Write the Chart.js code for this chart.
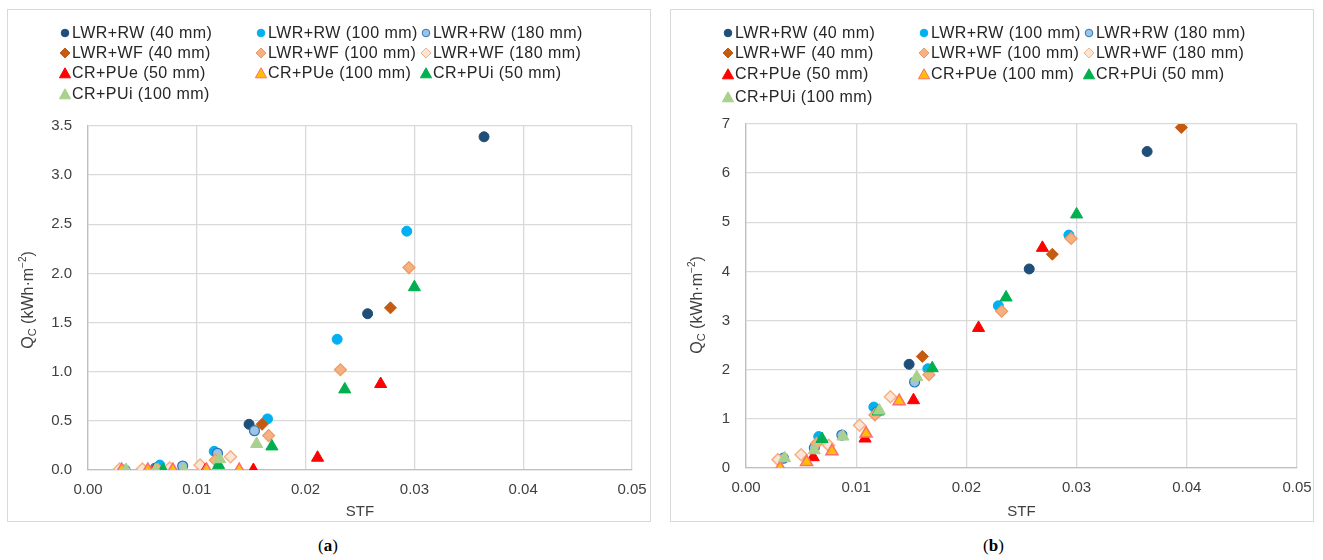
<!DOCTYPE html>
<html>
<head>
<meta charset="utf-8">
<script src="https://cdn.jsdelivr.net/npm/chart.js@4.4.1/dist/chart.umd.min.js"></script>
<style>
  body { margin: 0; background: #fff; width: 1323px; height: 560px; position: relative; overflow: hidden; font-family: "Liberation Sans", Arial, sans-serif; }
  .panel { position: absolute; top: 9px; width: 642px; height: 511px; border: 1px solid #d9d9d9; }
  .panel canvas { position: absolute; left: 0; top: 0; }
  .item { position: absolute; font-size: 16px; color: #262626; letter-spacing: 0.45px; white-space: nowrap; line-height: 20px; }
  .item svg { position: absolute; left: -13px; top: 4px; }
  .cap { position: absolute; top: 536px; font-family: "Liberation Serif", serif; font-size: 17px; color: #000; }
</style>
</head>
<body>
<div class="panel" id="panelA" style="left:7px"><canvas id="chartA" width="642" height="511"></canvas></div>
<div class="panel" id="panelB" style="left:670px"><canvas id="chartB" width="642" height="511"></canvas></div>
<div class="cap" style="left:318px">(<b>a</b>)</div>
<div class="cap" style="left:983px">(<b>b</b>)</div>
<script>
// series names
var names = ['LWR+RW (40 mm)', 'LWR+RW (100 mm)', 'LWR+RW (180 mm)',
             'LWR+WF (40 mm)', 'LWR+WF (100 mm)', 'LWR+WF (180 mm)',
             'CR+PUe (50 mm)', 'CR+PUe (100 mm)', 'CR+PUi (50 mm)',
             'CR+PUi (100 mm)'];

// STF values (x), same for both panels
var stfRW40   = [0.0364, 0.0257, 0.0148];
var stfRW100  = [0.0293, 0.0229, 0.0165, 0.0116, 0.0066];
var stfRW180  = [0.0153, 0.0119, 0.0087, 0.0062, 0.0034];
var stfWF40   = [0.0395, 0.0278, 0.0160];
var stfWF100  = [0.0295, 0.0232, 0.0166, 0.0117, 0.0064];
var stfWF180  = [0.0131, 0.0103, 0.0075, 0.0050, 0.0029];
var stfPUe50  = [0.0269, 0.0211, 0.0152, 0.0108, 0.0061];
var stfPUe100 = [0.0139, 0.0109, 0.0078, 0.0055, 0.0031];
var stfPUi50  = [0.0300, 0.0236, 0.0169, 0.0120, 0.0069];
var stfPUi100 = [0.0155, 0.0121, 0.0088, 0.0062, 0.0035];

// Qc panel (a)
var qaRW40   = [3.39, 1.59, 0.465];
var qaRW100  = [2.43, 1.33, 0.52, 0.19, 0.05];
var qaRW180  = [0.40, 0.17, 0.04, 0.02, 0.0];
var qaWF40   = [null, 1.65, 0.465];
var qaWF100  = [2.06, 1.02, 0.35, 0.10, 0.01];
var qaWF180  = [0.135, 0.05, 0.02, 0.01, 0.01];
var qaPUe50  = [0.875, 0.125, 0.0, 0.0, 0.0];
var qaPUe100 = [0.0, 0.0, 0.0, 0.0, 0.0];
var qaPUi50  = [1.86, 0.82, 0.24, 0.05, 0.0];
var qaPUi100 = [0.265, 0.11, 0.0, 0.0, 0.0];

// Qc panel (b)
var qbRW40   = [6.44, 4.05, 2.11];
var qbRW100  = [4.74, 3.30, 2.02, 1.24, 0.64];
var qbRW180  = [1.75, 1.14, 0.67, 0.41, 0.20];
var qbWF40   = [6.93, 4.35, 2.27];
var qbWF100  = [4.67, 3.19, 1.90, 1.08, 0.50];
var qbWF180  = [1.45, 0.87, 0.46, 0.27, 0.17];
var qbPUe50  = [4.48, 2.85, 1.38, 0.60, 0.22];
var qbPUe100 = [1.36, 0.70, 0.34, 0.12, 0.0];
var qbPUi50  = [5.16, 3.47, 2.03, 1.15, 0.59];
var qbPUi100 = [1.85, 1.17, 0.64, 0.36, 0.20];

var xTicks = [0, 0.01, 0.02, 0.03, 0.04, 0.05];

var stfs = [stfRW40, stfRW100, stfRW180, stfWF40, stfWF100, stfWF180, stfPUe50, stfPUe100, stfPUi50, stfPUi100];
var qa = [qaRW40, qaRW100, qaRW180, qaWF40, qaWF100, qaWF180, qaPUe50, qaPUe100, qaPUi50, qaPUi100];
var qb = [qbRW40, qbRW100, qbRW180, qbWF40, qbWF100, qbWF180, qbPUe50, qbPUe100, qbPUi50, qbPUi100];

// marker styles: shape, fill, border, border width, radius
var styles = [
  ['circle',   '#1f4e79', '#1f4e79', 1, 5],
  ['circle',   '#00b0f0', '#00b0f0', 1, 5],
  ['circle',   '#9dc3e6', '#2e75b6', 1.2, 5],
  ['rectRot',  '#c55a11', '#c55a11', 1, 6],
  ['rectRot',  '#f4b183', '#ee9a5e', 1.2, 6],
  ['rectRot',  '#fbe5d6', '#f4b183', 1.5, 6],
  ['triangle', '#ff0000', '#ff0000', 1, 7],
  ['triangle', '#ffc000', '#ff6d6d', 1.5, 7],
  ['triangle', '#00b050', '#00b050', 1, 7],
  ['triangle', '#a9d18e', '#a9d18e', 1, 7]
];

function makeDatasets(q) {
  return names.map(function(n, i) {
    var pts = [];
    stfs[i].forEach(function(x, j) {
      if (q[i][j] !== null) pts.push({ x: x, y: q[i][j] });
    });
    return {
      label: n,
      data: pts,
      pointStyle: styles[i][0],
      backgroundColor: styles[i][1],
      borderColor: styles[i][2],
      borderWidth: styles[i][3],
      pointRadius: styles[i][4],
      pointHoverRadius: styles[i][4],
      order: 20 - i
    };
  });
}

// y title with subscript and superscript
var yTitle = {
  id: 'yTitle',
  afterDraw: function(chart, args, opts) {
    var ctx = chart.ctx;
    var parts = [['Q', 16, 0], ['C', 11, 4], [' (kWh\u00b7m', 16, 0], ['\u22122', 10, -6], [')', 16, 0]];
    ctx.save();
    ctx.translate(opts.x, opts.y);
    ctx.rotate(-Math.PI / 2);
    ctx.fillStyle = '#404040';
    ctx.textBaseline = 'middle';
    var total = 0;
    parts.forEach(function(p) {
      ctx.font = p[1] + 'px "Liberation Sans", Arial';
      total += ctx.measureText(p[0]).width;
    });
    var cx = -total / 2;
    parts.forEach(function(p) {
      ctx.font = p[1] + 'px "Liberation Sans", Arial';
      ctx.fillText(p[0], cx, p[2]);
      cx += ctx.measureText(p[0]).width;
    });
    ctx.restore();
  }
};

function makeChart(id, q, yMax, yStep, yDec, areaLeft, padRight, areaTop, xHeight, titleX, titleY) {
  return new Chart(document.getElementById(id), {
    type: 'scatter',
    data: { datasets: makeDatasets(q) },
    plugins: [yTitle],
    options: {
      responsive: false,
      animation: false,
      layout: { padding: { top: areaTop, right: padRight, left: 0, bottom: 0 } },
      plugins: {
        legend: { display: false },
        tooltip: { enabled: false },
        yTitle: { x: titleX, y: titleY }
      },
      scales: {
        x: {
          type: 'linear',
          min: 0, max: 0.05,
          afterBuildTicks: function(s) { s.ticks = xTicks.map(function(v) { return { value: v }; }); },
          afterFit: function(s) { s.height = xHeight; s.paddingLeft = 0; s.paddingRight = 0; },
          ticks: { color: '#404040', font: { size: 15, family: '"Liberation Sans", Arial' }, padding: 11,
                   callback: function(v) { return v.toFixed(2); } },
          grid: { color: '#d9d9d9', lineWidth: 1.3, drawTicks: false },
          border: { color: '#bfbfbf', width: 1.3 },
          title: { display: true, text: 'STF', color: '#404040', font: { size: 15, family: '"Liberation Sans", Arial' }, padding: { top: 0, bottom: 0 } }
        },
        y: {
          min: 0, max: yMax,
          afterFit: function(s) { s.width = areaLeft; s.paddingTop = 0; s.paddingBottom = 0; },
          ticks: { stepSize: yStep, color: '#404040', font: { size: 15, family: '"Liberation Sans", Arial' }, padding: 16,
                   callback: function(v) { return v.toFixed(yDec); } },
          grid: { color: '#d9d9d9', lineWidth: 1.3, drawTicks: false },
          border: { color: '#bfbfbf', width: 1.3 }
        }
      }
    }
  });
}

makeChart('chartA', qa, 3.5, 0.5, 1, 80, 18, 116, 51, 21, 290);
makeChart('chartB', qb, 7, 1, 0, 75, 16, 114, 53, 27, 295);

// legend built as html
var colX = [55, 251, 416];
function makeLegend(panelId, rowsY) {
  var panel = document.getElementById(panelId);
  names.forEach(function(n, i) {
    var st = styles[i];
    var div = document.createElement('div');
    div.className = 'item';
    div.style.left = (colX[i % 3] + 9) + 'px';
    div.style.top = (rowsY[Math.floor(i / 3)] - 10) + 'px';
    var shape;
    if (st[0] === 'circle') {
      shape = '<circle cx="6" cy="6" r="3.8" fill="' + st[1] + '" stroke="' + st[2] + '" stroke-width="1"/>';
    } else if (st[0] === 'rectRot') {
      shape = '<polygon points="6,1 11,6 6,11 1,6" fill="' + st[1] + '" stroke="' + st[2] + '" stroke-width="1"/>';
    } else {
      shape = '<polygon points="6,0.8 11.6,10.8 0.4,10.8" fill="' + st[1] + '" stroke="' + st[2] + '" stroke-width="1"/>';
    }
    div.innerHTML = '<svg width="12" height="12">' + shape + '</svg>' + n;
    panel.appendChild(div);
  });
}
makeLegend('panelA', [23, 43, 63, 84]);
makeLegend('panelB', [23, 43, 64, 87]);
</script>
</body>
</html>
